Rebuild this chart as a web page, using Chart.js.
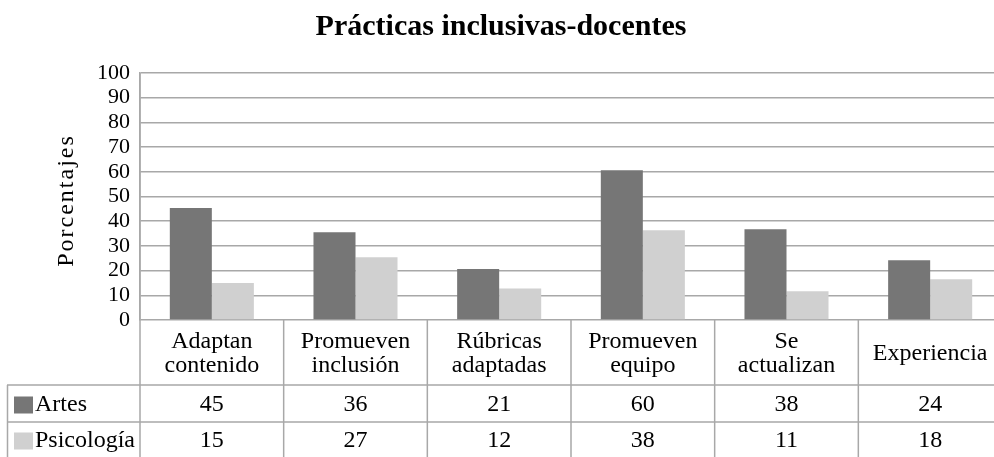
<!DOCTYPE html>
<html><head><meta charset="utf-8">
<script src="https://cdn.jsdelivr.net/npm/chart.js@4/dist/chart.umd.min.js"></script>
<style>html,body{margin:0;padding:0;overflow:hidden;background:#fff}#wrap{width:1002px;height:457px}</style>
</head><body><div id="wrap"><canvas id="c" width="1002" height="457"></canvas></div>
<script>
const chartTitle = 'Prácticas inclusivas-docentes';
const yTitle = 'Porcentajes';
const categories = [['Adaptan','contenido'],['Promueven','inclusión'],['Rúbricas','adaptadas'],['Promueven','equipo'],['Se','actualizan'],['Experiencia']];
const seriesNames = ['Artes','Psicología'];
const artesValues = [45.3, 35.5, 20.6, 60.6, 36.7, 24.2];
const psicologiaValues = [15.0, 25.4, 12.8, 36.3, 11.6, 16.5];
const artesTable = ['45','36','21','60','38','24'];
const psicologiaTable = ['15','27','12','38','11','18'];
const yTickValues = [0,10,20,30,40,50,60,70,80,90,100];
const colors = ['#767676', '#d0d0d0'];

const FONT = 'Liberation Serif';
const GRID = '#a8a8a8';

const tablePlugin = {
  id: 'dataTable',
  afterDraw(chart) {
    const ctx = chart.ctx;
    const x = chart.scales.x;
    const area = chart.chartArea;
    const H = chart.height;
    const rows = [{name: seriesNames[0], vals: artesTable, color: colors[0], top: 385, bottom: 422},
                  {name: seriesNames[1], vals: psicologiaTable, color: colors[1], top: 422, bottom: 460}];
    ctx.save();
    ctx.strokeStyle = GRID;
    ctx.lineWidth = 1.5;
    ctx.beginPath();
    ctx.moveTo(area.left, area.top); ctx.lineTo(area.left, H);
    for (let i = 0; i < categories.length - 1; i++) {
      const b = (x.getPixelForValue(i) + x.getPixelForValue(i + 1)) / 2;
      ctx.moveTo(b, area.bottom); ctx.lineTo(b, H);
    }
    ctx.moveTo(7, rows[0].top); ctx.lineTo(area.right, rows[0].top);
    ctx.moveTo(7, rows[1].top); ctx.lineTo(area.right, rows[1].top);
    ctx.moveTo(7.5, rows[0].top); ctx.lineTo(7.5, H);
    ctx.stroke();
    ctx.font = '24px "' + FONT + '"';
    ctx.textBaseline = 'middle';
    rows.forEach(r => {
      const cy = (r.top + Math.min(r.bottom, 457)) / 2 + 1;
      ctx.fillStyle = r.color;
      ctx.fillRect(14, cy - 8, 19, 17);
      ctx.fillStyle = '#000';
      ctx.textAlign = 'left';
      ctx.fillText(r.name, 35, cy);
      ctx.textAlign = 'center';
      r.vals.forEach((v, i) => ctx.fillText(v, x.getPixelForValue(i), cy));
    });
    ctx.restore();
  }
};

const chart = new Chart(document.getElementById('c'), {
  type: 'bar',
  data: {
    labels: categories,
    datasets: [
      {label: seriesNames[0], data: artesValues, backgroundColor: colors[0], barPercentage: 1, categoryPercentage: 0.585},
      {label: seriesNames[1], data: psicologiaValues, backgroundColor: colors[1], barPercentage: 1, categoryPercentage: 0.585}
    ]
  },
  options: {
    responsive: false,
    animation: false,
    devicePixelRatio: 1,
    layout: {padding: 0},
    plugins: {
      legend: {display: false},
      tooltip: {enabled: false},
      title: {display: true, text: chartTitle, color: '#000',
        font: {family: FONT, size: 30, weight: 'bold', lineHeight: 1.2}, padding: {top: 9, bottom: 28}}
    },
    scales: {
      x: {
        grid: {display: false, drawTicks: false},
        border: {display: false},
        ticks: {color: '#000', font: {family: FONT, size: 24, lineHeight: 1.0}, padding: 22, crossAlign: 'center', maxRotation: 0, autoSkip: false},
        afterFit(s) { s.height = 137; s.paddingLeft = 0; s.paddingRight = 0; }
      },
      y: {
        min: 0, max: 100,
        afterBuildTicks(s) { s.ticks = yTickValues.map(v => ({value: v})); },
        grid: {color: GRID, lineWidth: 1.5, drawTicks: false},
        border: {display: true, color: GRID, width: 1.5},
        ticks: {color: '#000', font: {family: FONT, size: 22, lineHeight: 1}, padding: 10, autoSkip: false},
        title: {display: true, text: yTitle, color: '#000', font: {family: FONT, size: 24, lineHeight: 1.2}, padding: {top: 52, bottom: 0}},
        afterFit(s) { s.width = 140; }
      }
    }
  },
  plugins: [tablePlugin]
});

function withSpacing(scale, fn, spacing, dy) {
  const orig = scale[fn];
  scale[fn] = function (...args) {
    const ctx = this.ctx;
    ctx.save();
    ctx.letterSpacing = spacing;
    if (dy) ctx.translate(0, dy);
    orig.apply(this, args);
    ctx.restore();
  };
}
withSpacing(chart.scales.y, 'drawTitle', '2px', 4);
chart.draw();
</script>
</body></html>
